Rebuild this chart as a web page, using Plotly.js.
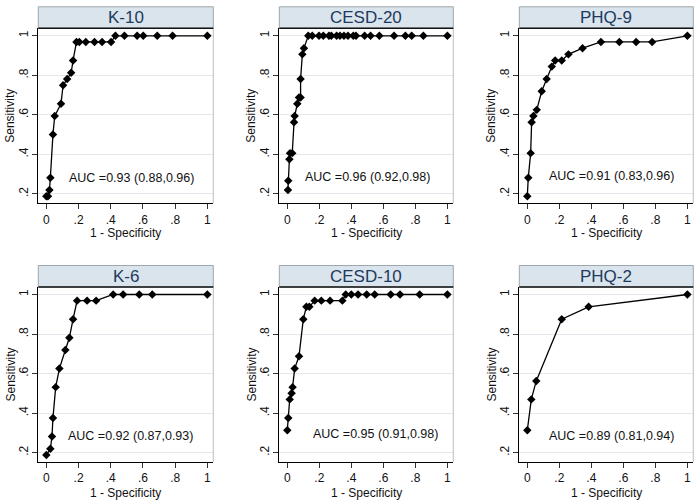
<!DOCTYPE html>
<html>
<head>
<meta charset="utf-8">
<script src="https://cdn.plot.ly/plotly-3.0.1.min.js"></script>
<style>html,body{margin:0;padding:0;background:#fff;}#chart{width:700px;height:504px;}</style>
</head>
<body>
<div id="chart"></div>
<script>
// ---- data ----
const panelTitles = ['K-10', 'CESD-20', 'PHQ-9', 'K-6', 'CESD-10', 'PHQ-2'];
const aucLabels = [
  'AUC =0.93 (0.88,0.96)', 'AUC =0.96 (0.92,0.98)', 'AUC =0.91 (0.83,0.96)',
  'AUC =0.92 (0.87,0.93)', 'AUC =0.95 (0.91,0.98)', 'AUC =0.89 (0.81,0.94)'
];
const xAxisTitle = '1 - Specificity';
const yAxisTitle = 'Sensitivity';
const xTickVals = [0, 0.2, 0.4, 0.6, 0.8, 1];
const xTickText = ['0', '.2', '.4', '.6', '.8', '1'];
const yTickVals = [0.2, 0.4, 0.6, 0.8, 1];
const yTickText = ['.2', '.4', '.6', '.8', '1'];

const k10X = [0, 0.01, 0.019, 0.025, 0.041, 0.052, 0.091, 0.104, 0.129, 0.154, 0.166, 0.187, 0.205, 0.245, 0.299, 0.346, 0.402, 0.429, 0.485, 0.564, 0.602, 0.689, 0.784, 1];
const k10Y = [0.1875, 0.1875, 0.219, 0.281, 0.5, 0.594, 0.656, 0.75, 0.781, 0.8125, 0.875, 0.969, 0.969, 0.969, 0.969, 0.969, 0.969, 1, 1, 1, 1, 1, 1, 1];

const cesd20X = [0.004, 0.006, 0.013, 0.017, 0.031, 0.042, 0.046, 0.0625, 0.073, 0.083, 0.083, 0.094, 0.104, 0.131, 0.156, 0.198, 0.225, 0.26, 0.275, 0.308, 0.329, 0.354, 0.379, 0.4125, 0.429, 0.483, 0.52, 0.575, 0.667, 0.7375, 0.777, 0.85, 1];
const cesd20Y = [0.219, 0.266, 0.375, 0.406, 0.406, 0.5625, 0.594, 0.656, 0.6875, 0.6875, 0.781, 0.906, 0.9375, 1, 1, 1, 1, 1, 1, 1, 1, 1, 1, 1, 1, 1, 1, 1, 1, 1, 1, 1, 1];

const phq9X = [0, 0.006, 0.021, 0.027, 0.038, 0.059, 0.09, 0.121, 0.153, 0.174, 0.215, 0.257, 0.345, 0.46, 0.575, 0.68, 0.78, 1];
const phq9Y = [0.1875, 0.281, 0.406, 0.5625, 0.594, 0.625, 0.719, 0.781, 0.844, 0.875, 0.875, 0.906, 0.9375, 0.969, 0.969, 0.969, 0.969, 1];

const k6X = [0, 0.025, 0.035, 0.041, 0.058, 0.081, 0.118, 0.143, 0.166, 0.191, 0.253, 0.309, 0.415, 0.477, 0.577, 0.658, 1];
const k6Y = [0.1875, 0.219, 0.281, 0.375, 0.531, 0.625, 0.719, 0.781, 0.875, 0.969, 0.969, 0.969, 1, 1, 1, 1, 1];

const cesd10X = [0, 0.006, 0.015, 0.027, 0.033, 0.046, 0.073, 0.1, 0.119, 0.1375, 0.171, 0.2125, 0.267, 0.344, 0.365, 0.4, 0.442, 0.496, 0.546, 0.646, 0.704, 0.827, 1];
const cesd10Y = [0.3125, 0.375, 0.469, 0.5, 0.531, 0.625, 0.6875, 0.875, 0.9375, 0.9375, 0.969, 0.969, 0.969, 0.969, 1, 1, 1, 1, 1, 1, 1, 1, 1];

const phq2X = [0, 0.025, 0.056, 0.215, 0.383, 1];
const phq2Y = [0.3125, 0.469, 0.5625, 0.875, 0.9375, 1];

const aucX = [0.53, 0.5, 0.525, 0.52, 0.548, 0.525];
const aucY = [0.28, 0.285, 0.29, 0.285, 0.296, 0.285];

const seriesX = [k10X, cesd20X, phq9X, k6X, cesd10X, phq2X];
const seriesY = [k10Y, cesd20Y, phq9Y, k6Y, cesd10Y, phq2Y];

// ---- layout geometry ----
const W = 700, H = 504;
const FONT = 'Liberation Sans, Arial, sans-serif';
const cols = [[38.3, 213.3], [279.3, 453.3], [519.3, 693.3]];
const rows = [[28.3, 203.3], [287, 462]];
const xTitleY = [232.5, 492.5];
const stripH = 21.5;

const traces = [];
const layout = {
  width: W, height: H,
  margin: {l: 0, r: 0, t: 0, b: 0},
  paper_bgcolor: '#ffffff',
  plot_bgcolor: '#ffffff',
  showlegend: false,
  font: {family: FONT, color: '#111111'},
  shapes: [],
  annotations: []
};

for (let i = 0; i < 6; i++) {
  const r = Math.floor(i / 3), c = i % 3;
  const sfx = i === 0 ? '' : String(i + 1);
  const xa = 'x' + sfx, ya = 'y' + sfx;
  const x0 = cols[c][0] / W, x1 = cols[c][1] / W;
  const yTop = 1 - rows[r][0] / H, yBot = 1 - rows[r][1] / H;

  traces.push({
    type: 'scatter', mode: 'lines+markers',
    x: seriesX[i], y: seriesY[i],
    xaxis: xa, yaxis: ya,
    line: {color: '#000000', width: 1.3},
    marker: {symbol: 'diamond', size: 6.5, color: '#000000'},
    hoverinfo: 'skip'
  });

  layout['xaxis' + sfx] = {
    domain: [x0, x1], anchor: ya,
    range: [-0.05, 1.037],
    tickvals: xTickVals, ticktext: xTickText,
    ticks: 'outside', ticklen: 5, tickwidth: 1, tickcolor: '#333333',
    showline: true, linecolor: '#000000', linewidth: 1,
    showgrid: false, zeroline: false,
    tickfont: {family: FONT, size: 12, color: '#111111'},
    fixedrange: true
  };
  layout['yaxis' + sfx] = {
    domain: [yBot, yTop], anchor: xa,
    range: [0.152, 1.038],
    tickvals: yTickVals, ticktext: yTickText, tickangle: -90,
    ticks: 'outside', ticklen: 5, tickwidth: 1, tickcolor: '#333333',
    showline: true, linecolor: '#000000', linewidth: 1,
    showgrid: true, gridcolor: '#e3e9ee', gridwidth: 1, zeroline: false,
    tickfont: {family: FONT, size: 12, color: '#111111'},
    fixedrange: true
  };

  // axis titles
  layout.annotations.push({xref: 'paper', yref: 'paper', x: (x0 + x1) / 2, y: 1 - xTitleY[r] / H,
    text: xAxisTitle, showarrow: false, xanchor: 'center', yanchor: 'middle', borderpad: 0,
    font: {family: FONT, size: 12, color: '#111111'}});
  layout.annotations.push({xref: 'paper', yref: 'paper', x: (cols[c][0] - 28.3) / W, y: (yTop + yBot) / 2,
    text: yAxisTitle, showarrow: false, textangle: -90, xanchor: 'center', yanchor: 'middle', borderpad: 0,
    font: {family: FONT, size: 12, color: '#111111'}});

  // right frame edge
  layout.shapes.push({type: 'line', xref: 'paper', yref: 'paper', x0: x1, x1: x1, y0: yBot, y1: yTop,
    line: {color: '#bdbdbd', width: 1}});
  // strip
  const sTop = 1 - (rows[r][0] - stripH) / H;
  layout.shapes.push({type: 'rect', xref: 'paper', yref: 'paper', x0: x0, x1: x1, y0: yTop, y1: sTop,
    fillcolor: '#d9e4ec', line: {color: '#9ea7ad', width: 1}});
  layout.shapes.push({type: 'line', xref: 'paper', yref: 'paper', x0: x0, x1: x1, y0: yTop, y1: yTop,
    line: {color: '#111111', width: 1.5}});
  layout.annotations.push({xref: 'paper', yref: 'paper', x: (x0 + x1) / 2, y: (yTop + sTop) / 2,
    text: panelTitles[i], showarrow: false, xanchor: 'center', yanchor: 'middle',
    font: {family: FONT, size: 17, color: '#1e3a5f'}});
  // AUC label
  layout.annotations.push({xref: xa, yref: ya, x: aucX[i], y: aucY[i], text: aucLabels[i],
    showarrow: false, xanchor: 'center', yanchor: 'middle',
    font: {family: FONT, size: 12.5, color: '#111111'}});
}

Plotly.newPlot('chart', traces, layout, {displayModeBar: false, staticPlot: true});
</script>
</body>
</html>
